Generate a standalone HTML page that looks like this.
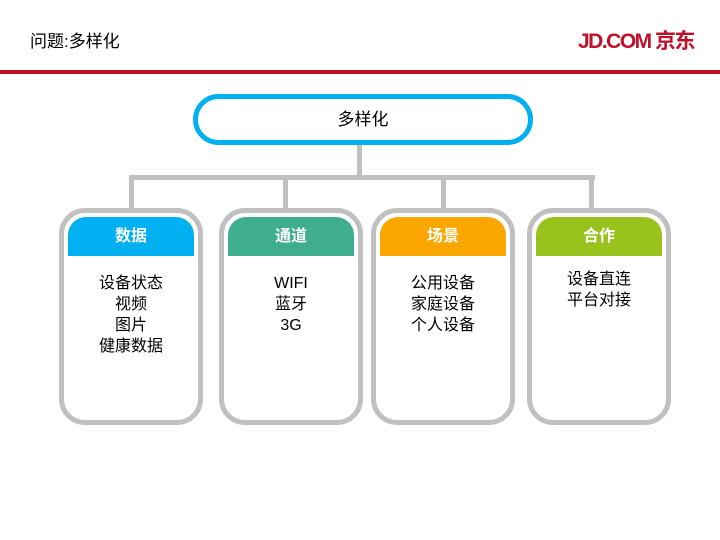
<!DOCTYPE html>
<html><head><meta charset="utf-8"><style>
body{margin:0;width:720px;height:540px;background:#fff;position:relative;overflow:hidden;font-family:"Liberation Sans","Noto Sans CJK SC",sans-serif;}
.a{position:absolute;}
.card{position:absolute;top:208px;width:134px;height:207px;border:5px solid #c0c0c0;border-radius:26px;background:#fff;overflow:hidden;}
.hd{position:absolute;left:4px;right:4px;top:4px;height:39px;border-radius:18px 18px 0 0;color:#fff;font-weight:bold;font-size:16px;text-align:center;line-height:39px;}
.bd{position:absolute;left:0;right:0;top:60px;text-align:center;font-size:16px;line-height:21px;color:#000;}
.g{position:absolute;background:#c0c0c0;}
</style></head><body>
<div class="a" style="left:30px;top:27px;font-size:17px;">问题:多样化</div>
<div class="a" style="left:578px;top:25px;font-size:21px;color:#c0102a;font-weight:bold;letter-spacing:-1.5px;white-space:nowrap;">JD.COM 京东</div>
<div class="a" style="left:0;top:70px;width:720px;height:4px;background:#c0102a;"></div>
<div class="g" style="left:357px;top:140px;width:5px;height:40px;"></div>
<div class="g" style="left:129px;top:175px;width:466px;height:5px;"></div>
<div class="g" style="left:129px;top:175px;width:5px;height:40px;"></div>
<div class="g" style="left:283px;top:175px;width:5px;height:40px;"></div>
<div class="g" style="left:441px;top:175px;width:5px;height:40px;"></div>
<div class="g" style="left:589px;top:175px;width:5px;height:40px;"></div>
<div class="a" style="left:193px;top:94px;width:330px;height:41px;border:5px solid #00b0f0;border-radius:26px;background:#fff;text-align:center;line-height:41px;font-size:17px;">多样化</div>
<div class="card" style="left:59px;"><div class="hd" style="background:#00b0f0;">数据</div><div class="bd">设备状态<br>视频<br>图片<br>健康数据</div></div>
<div class="card" style="left:219px;"><div class="hd" style="background:#3fae8f;">通道</div><div class="bd">WIFI<br>蓝牙<br>3G</div></div>
<div class="card" style="left:371px;"><div class="hd" style="background:#fca600;">场景</div><div class="bd">公用设备<br>家庭设备<br>个人设备</div></div>
<div class="card" style="left:527px;"><div class="hd" style="background:#99c31c;">合作</div><div class="bd" style="top:56px;">设备直连<br>平台对接</div></div>
</body></html>
